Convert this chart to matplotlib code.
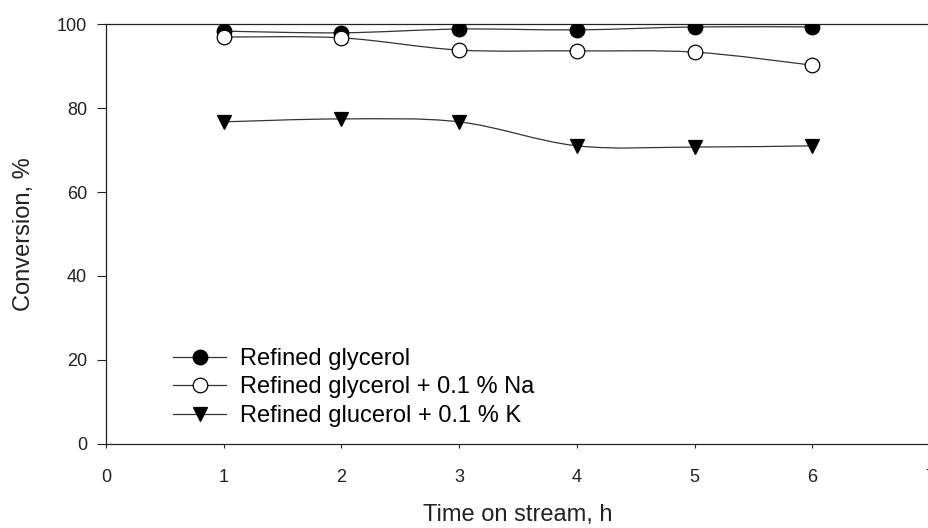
import numpy as np
import matplotlib
matplotlib.use("Agg")
import matplotlib.pyplot as plt
from matplotlib.path import Path
from matplotlib.patches import PathPatch
from matplotlib.lines import Line2D

plt.rcParams['font.family'] = ['Liberation Sans', 'DejaVu Sans']

time_h = [1, 2, 3, 4, 5, 6]
refined = [98.3, 97.9, 98.8, 98.6, 99.3, 99.3]
refined_na = [96.9, 96.7, 93.8, 93.6, 93.3, 90.2]
refined_k = [76.7, 77.4, 76.7, 71.0, 70.7, 71.0]
labels = ["Refined glycerol", "Refined glycerol + 0.1 % Na", "Refined glucerol + 0.1 % K"]
xticks = [0, 1, 2, 3, 4, 5, 6, 7]
yticks = [0, 20, 40, 60, 80, 100]


def smooth_path(x, y, tension=1/6):
    x = np.asarray(x, float)
    y = np.asarray(y, float)
    verts = [(x[0], y[0])]
    codes = [Path.MOVETO]
    n = len(x)
    for i in range(n - 1):
        p0 = np.array([x[max(i - 1, 0)], y[max(i - 1, 0)]])
        p1 = np.array([x[i], y[i]])
        p2 = np.array([x[i + 1], y[i + 1]])
        p3 = np.array([x[min(i + 2, n - 1)], y[min(i + 2, n - 1)]])
        c1 = p1 + (p2 - p0) * tension
        c2 = p2 - (p3 - p1) * tension
        verts += [tuple(c1), tuple(c2), tuple(p2)]
        codes += [Path.CURVE4] * 3
    return Path(verts, codes)


fig = plt.figure(figsize=(9.29, 5.28), dpi=100)
ax = fig.add_axes([106 / 929, 84 / 528, 824 / 929, 420 / 528])

lc = '#333333'
series = [
    (refined, dict(marker='o', markersize=10.5, markerfacecolor='black', markeredgecolor='black')),
    (refined_na, dict(marker='o', markersize=10.5, markerfacecolor='white', markeredgecolor='black')),
    (refined_k, dict(marker='v', markersize=10, markerfacecolor='black', markeredgecolor='black')),
]
handles = []
for (vals, mk), lab in zip(series, labels):
    patch = PathPatch(smooth_path(time_h, vals), facecolor='none', edgecolor=lc, lw=0.9, zorder=2)
    ax.add_patch(patch)
    ax.plot(time_h, vals, linestyle='none', zorder=3, markeredgewidth=0.9, **mk)
    handles.append(Line2D([], [], color=lc, lw=0.9, markeredgewidth=0.9, **mk))

ax.set_xlim(0, 7)
ax.set_ylim(0, 100)
ax.set_xticks(xticks)
ax.set_yticks(yticks)
ax.spines['right'].set_visible(False)
for s in ['left', 'bottom', 'top']:
    ax.spines[s].set_linewidth(0.9)
    ax.spines[s].set_color('#222222')
ax.tick_params(axis='x', direction='out', length=3, pad=15, labelsize=13, colors='#222222')
ax.tick_params(axis='y', direction='out', length=6.5, pad=7, labelsize=13, colors='#222222')

ax.set_xlabel("Time on stream, h", fontsize=17, labelpad=13, color='#222222')
ax.set_ylabel("Conversion, %", fontsize=17, labelpad=16, color='#222222')

ax.legend(handles, labels, loc='upper left', bbox_to_anchor=(0.0814, 0.229), frameon=False,
          borderaxespad=0, borderpad=0,
          fontsize=17, handlelength=2.25, handletextpad=0.6, labelspacing=0.28)

fig.savefig("out.png", dpi=100)
